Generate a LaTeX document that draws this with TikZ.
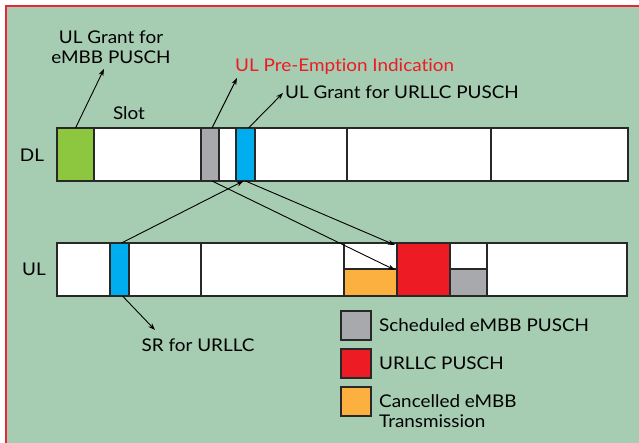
\documentclass[tikz,border=0pt]{standalone}
\usepackage{fontspec}
\setmainfont{Lato}[FakeStretch=1.08, Ligatures={NoCommon}]
\usetikzlibrary{arrows.meta}
\definecolor{bggreen}{RGB}{166,204,178}
\definecolor{frame}{RGB}{230,40,50}
\definecolor{cgreen}{RGB}{141,198,63}
\definecolor{cblue}{RGB}{0,174,239}
\definecolor{cgray}{RGB}{167,169,172}
\definecolor{cred}{RGB}{237,28,36}
\definecolor{corange}{RGB}{251,176,64}
\definecolor{edge}{RGB}{40,40,40}
\tikzset{
  cell/.style={draw=edge, line width=1.2pt, rectangle, inner sep=0pt, outer sep=0pt},
  lbl/.style={font=\fontsize{17.5}{20}\selectfont, text=black, inner sep=0pt, align=center},
  arr/.style={-{Stealth[length=7pt,width=5pt]}, line width=0.9pt, black},
}
\newcommand{\cellnode}[6]{% name, x1, x2, y1, y2, color
  \pgfmathsetmacro{\cx}{(#2+#3)/2}\pgfmathsetmacro{\cy}{(#4+#5)/2}
  \pgfmathsetmacro{\cw}{#3-#2}\pgfmathsetmacro{\ch}{#5-#4}
  \node[cell, fill=#6, minimum width=\cw pt, minimum height=\ch pt] (#1) at (\cx,\cy) {};}
\begin{document}
\begin{tikzpicture}[x=1pt,y=-1pt]
\useasboundingbox (0,0) rectangle (639,443);
\fill[white] (0,0) rectangle (639,443);
\begin{scope}
\clip (0,0) rectangle (639,443);
\draw[frame, fill=bggreen, line width=1.2pt] (6,6) rectangle (660,470);
\end{scope}
% DL bar
\cellnode{dl1}{57}{94}{128}{181}{cgreen}
\cellnode{dl2}{94}{201}{128}{181}{white}
\cellnode{dl3}{201}{219}{128}{181}{cgray}
\cellnode{dl4}{219}{236}{128}{181}{white}
\cellnode{dl5}{236}{255}{128}{181}{cblue}
\cellnode{dl6}{255}{347}{128}{181}{white}
\cellnode{dl7}{347}{491}{128}{181}{white}
\cellnode{dl8}{491}{628}{128}{181}{white}
% UL bar
\cellnode{ul1}{57}{110}{243}{296}{white}
\cellnode{ul2}{110}{129}{243}{296}{cblue}
\cellnode{ul3}{129}{201}{243}{296}{white}
\cellnode{ul4}{201}{344}{243}{296}{white}
\cellnode{ul5a}{344}{397}{243}{269}{white}
\cellnode{ul5b}{344}{397}{269}{296}{corange}
\cellnode{ul6}{397}{450}{243}{296}{cred}
\cellnode{ul7a}{450}{487}{243}{269}{white}
\cellnode{ul7b}{450}{487}{269}{296}{cgray}
\cellnode{ul8}{487}{627}{243}{296}{white}
% legend
\cellnode{lg1}{341}{371}{311}{340}{cgray}
\cellnode{lg2}{341}{371}{349}{378}{cred}
\cellnode{lg3}{341}{371}{387}{416}{corange}
\node[lbl, anchor=west] (lt1) at (379,325.5) {Scheduled eMBB PUSCH};
\node[lbl, anchor=west] (lt2) at (379,363.5) {URLLC PUSCH};
\node[lbl, anchor=west, align=left] (lt3) at (379,411) {Cancelled eMBB\\Transmission};
% labels
\node[lbl] (gemb) at (111,47) {UL Grant for\\eMBB PUSCH};
\node[lbl] (slot) at (129,113) {Slot};
\node[lbl] (dll) at (32,155) {DL};
\node[lbl] (ull) at (34,269) {UL};
\node[lbl, anchor=west, text=cred] (pei) at (235,67) {UL Pre-Emption Indication};
\node[lbl, anchor=west] (gurl) at (285,92) {UL Grant for URLLC PUSCH};
\node[lbl] (sr) at (198,345) {SR for URLLC};
% arrow tips
\coordinate (t1) at (104,69);
\coordinate (t2) at (237,78);
\coordinate (t3) at (283,93);
\coordinate (t4) at (155,330);
% arrows
\draw[arr] (dl1.north) -- (t1);
\draw[arr] ([xshift=2pt]dl3.north) -- (t2);
\draw[arr] ([xshift=3pt]dl5.north) -- (t3);
\draw[arr] ([xshift=2pt]ul2.north) -- ([xshift=-2pt]dl5.south);
\draw[arr] ([xshift=2pt]dl3.south) -- ([xshift=-2pt,yshift=-1pt]ul5a.south east);
\draw[arr] (dl5.south) -- ([xshift=-2pt,yshift=-2pt]ul6.north west);
\draw[arr] ([xshift=3pt]ul2.south) -- (t4);
\end{tikzpicture}
\end{document}
